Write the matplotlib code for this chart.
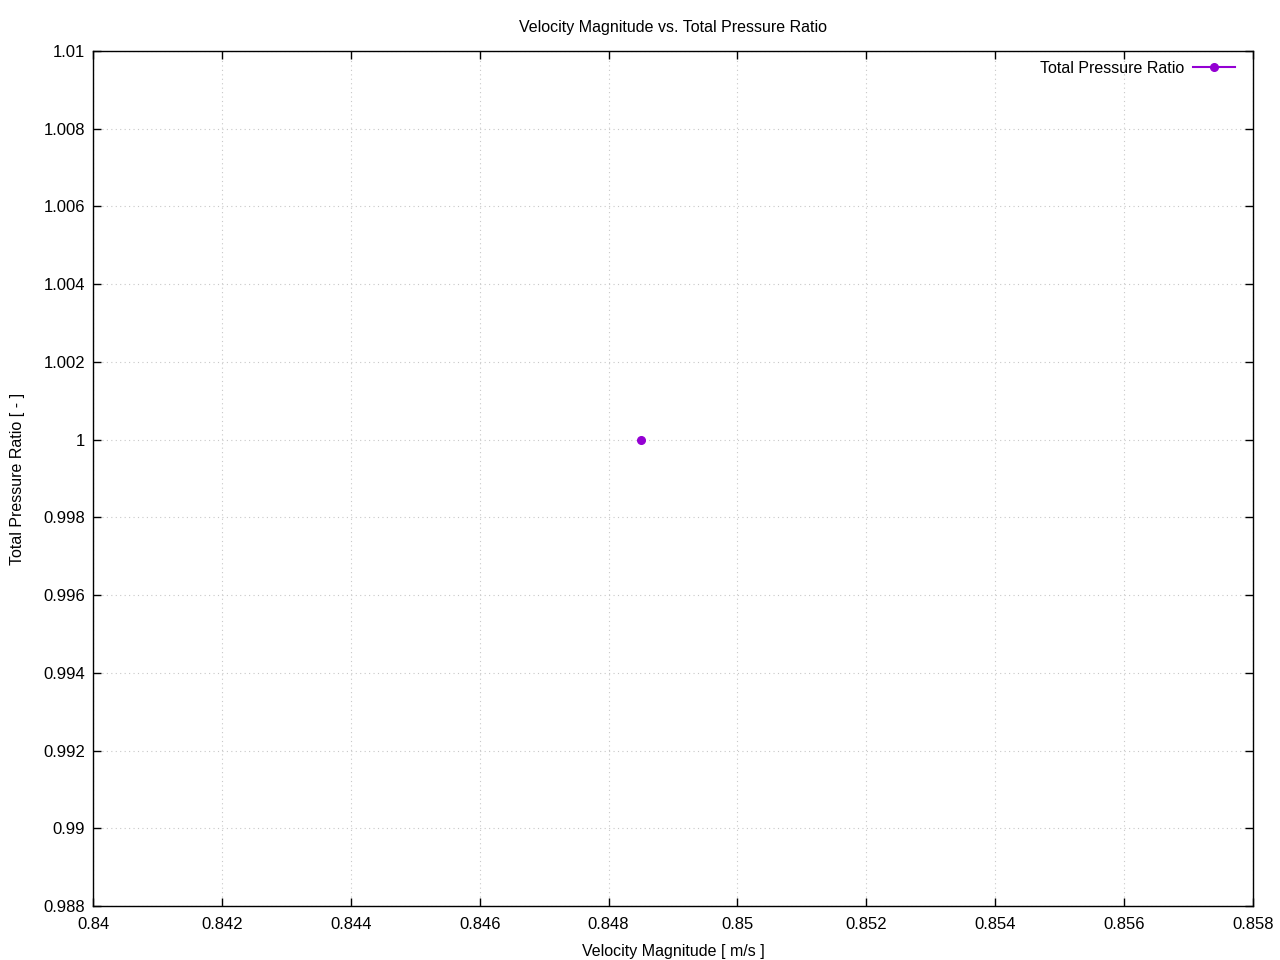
import matplotlib
matplotlib.use("Agg")
import matplotlib.pyplot as plt
from matplotlib.ticker import FuncFormatter

velocity = [0.8485]
pressure_ratio = [1.0]

x_ticks = [0.84, 0.842, 0.844, 0.846, 0.848, 0.85, 0.852, 0.854, 0.856, 0.858]
y_ticks = [0.988, 0.99, 0.992, 0.994, 0.996, 0.998, 1.0, 1.002, 1.004, 1.006, 1.008, 1.01]

plt.rcParams['font.family'] = ['Liberation Sans', 'DejaVu Sans']

fig = plt.figure(figsize=(12.8, 9.6), dpi=100)
ax = fig.add_axes([93/1280, 1 - 906/960, (1253-93)/1280, (906-51)/960])

ax.plot(velocity, pressure_ratio, color='#9400D3', marker='o', markersize=5.5,
        linewidth=1.5, label='Total Pressure Ratio')

ax.set_xlim(0.84, 0.858)
ax.set_ylim(0.988, 1.01)
ax.set_xticks(x_ticks)
ax.set_yticks(y_ticks)
fmt = FuncFormatter(lambda v, p: f"{v:g}")
ax.xaxis.set_major_formatter(fmt)
ax.yaxis.set_major_formatter(fmt)
ax.tick_params(direction='in', length=6, width=1, top=True, right=True, labelsize=12, colors='black')
ax.tick_params(axis='x', pad=8)
ax.tick_params(axis='y', pad=5.5)
ax.grid(True, color='#c8c8c8', linestyle=(0, (1, 3)), linewidth=0.8)
for s in ax.spines.values():
    s.set_linewidth(1)

ax.set_title('Velocity Magnitude vs. Total Pressure Ratio', fontsize=11.5, pad=13.5)
ax.set_xlabel('Velocity Magnitude [ m/s ]', fontsize=11.5, labelpad=8.5)
ax.set_ylabel('Total Pressure Ratio [ - ]', fontsize=11.5, labelpad=13)

leg = ax.legend(loc='upper right', frameon=False, fontsize=11.5, markerfirst=False,
                handlelength=2.6, borderaxespad=0.0, handletextpad=0.55,
                bbox_to_anchor=(1 - 12/1160, 1 - 3.6/855))

fig.savefig('out.png', dpi=100)
